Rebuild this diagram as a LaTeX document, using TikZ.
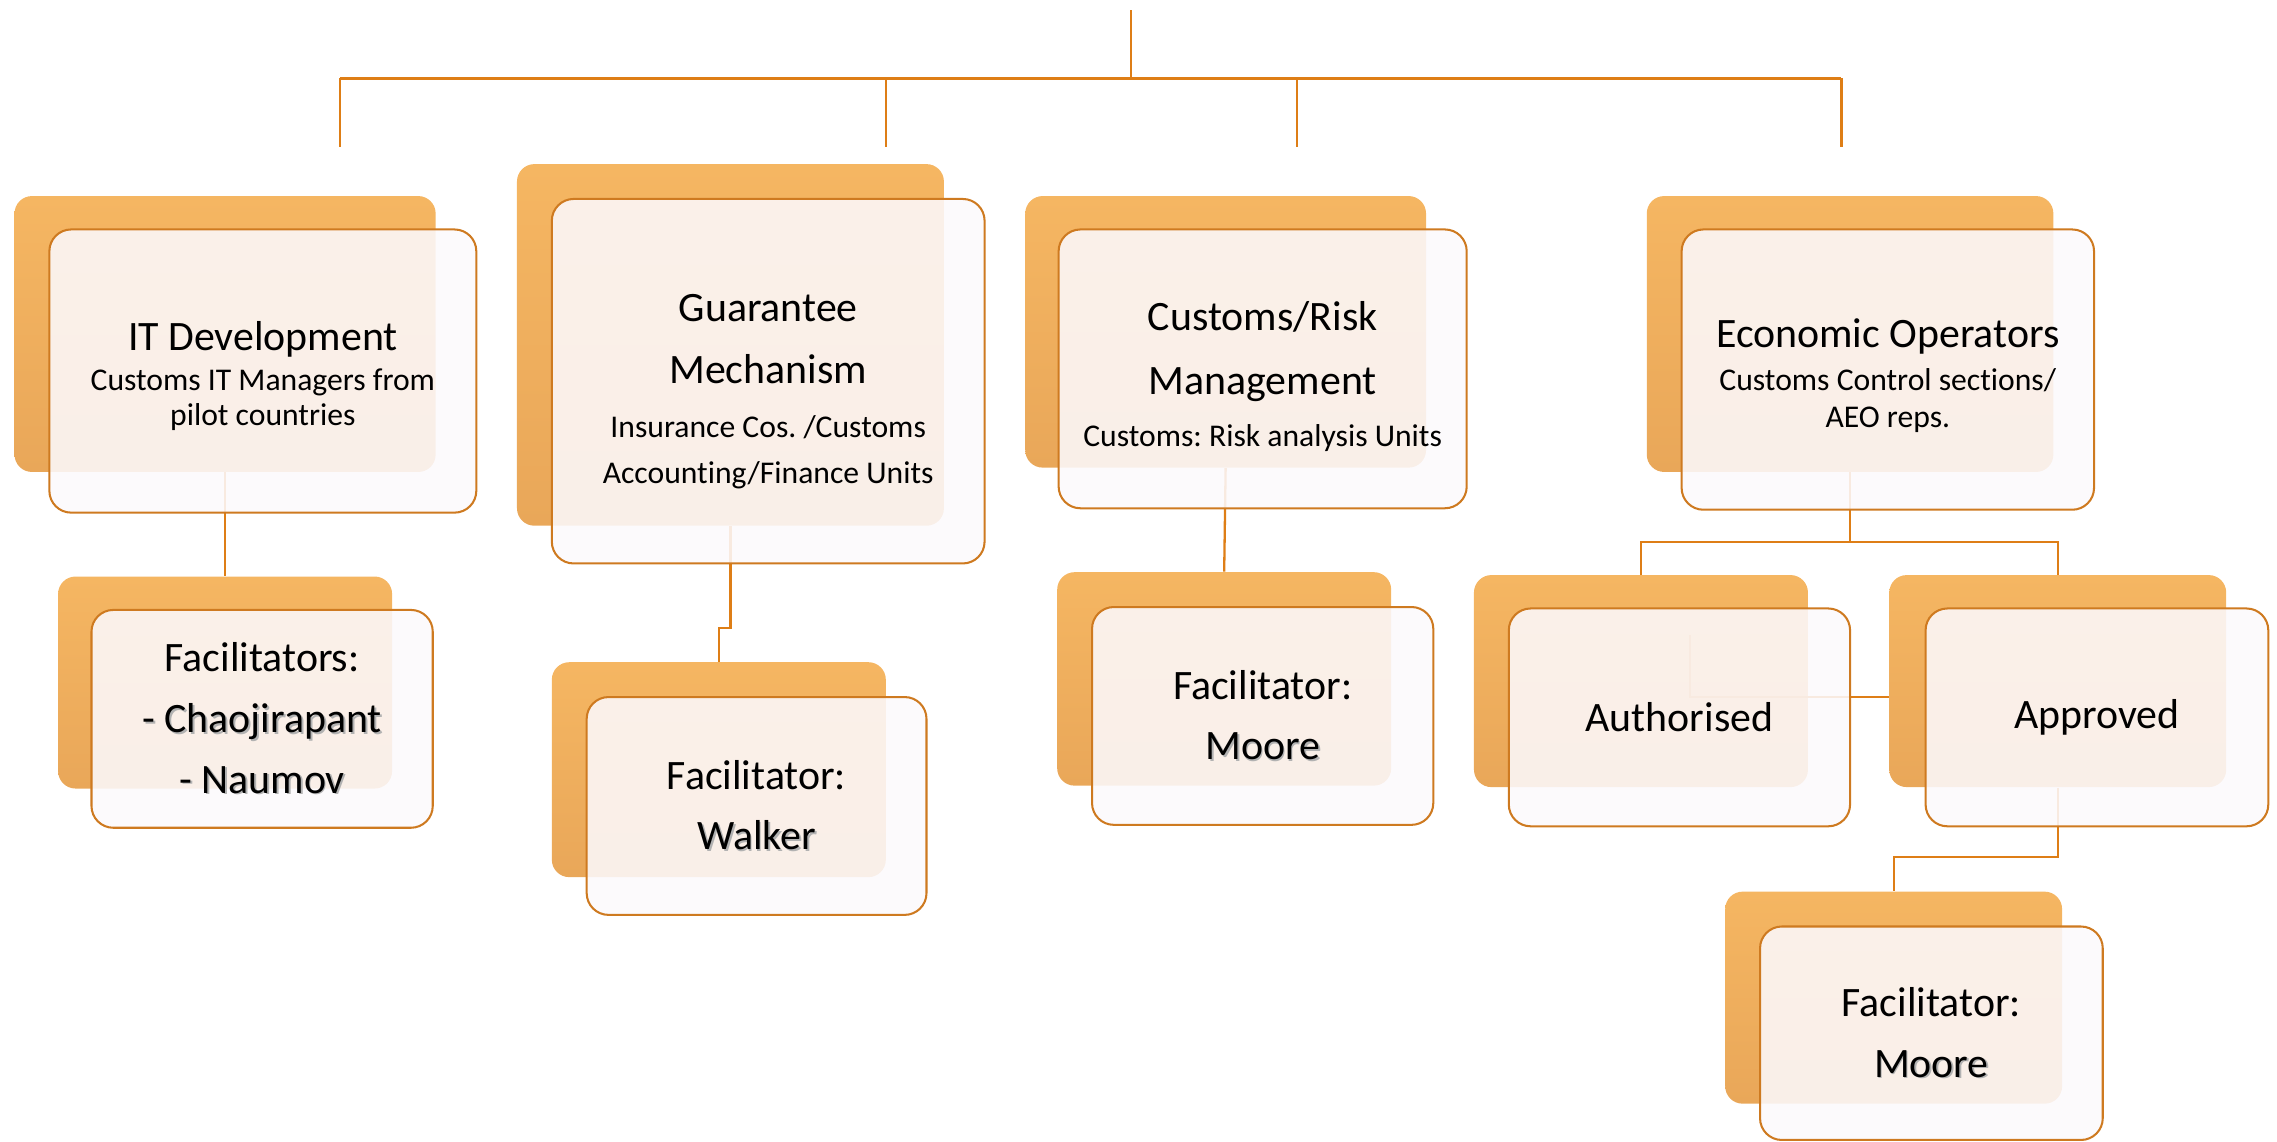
\documentclass[tikz,border=0pt]{standalone}
\usepackage{fontspec}
\setmainfont[Ligatures=NoCommon]{Carlito}
\usetikzlibrary{fit}
\definecolor{linkorange}{RGB}{222,126,22}
\definecolor{edgeorange}{RGB}{206,122,32}
\definecolor{backtop}{RGB}{245,182,98}
\definecolor{backbot}{RGB}{233,167,89}
\definecolor{frontfill}{RGB}{252,249,252}
\def\hd{\fontsize{16.4}{20}\selectfont}
\def\shname#1{\leavevmode\rlap{\kern0.7pt\raisebox{-0.7pt}{\color{black!30}#1}}#1}
\frenchspacing

\begin{document}
\begin{tikzpicture}[x=0.2mm, y=-0.2mm,
    backbox/.style={inner sep=0pt, rounded corners=2.4mm, top color=backtop, bottom color=backbot},
    frontbox/.style={inner sep=0pt, rounded corners=3mm, draw=edgeorange, line width=0.8pt,
        fill=frontfill, fill opacity=0.88},
    boxtext/.style={align=center, inner sep=0pt, font=\fontsize{16.4}{23.8}\selectfont},
    link/.style={draw=linkorange, line width=0.9pt}]
    \useasboundingbox (0,0) rectangle (1568,786.4);

    \coordinate (root) at (779,7);
    \coordinate (rootFork) at (779,54);
    \coordinate (itTap) at (234,101);
    \coordinate (gmTap) at (610,101);
    \coordinate (crTap) at (893,101);
    \coordinate (eoTap) at (1268,101);
    \draw[link] (root) -- (rootFork);
    \draw[link, line width=1.2pt] (itTap |- rootFork) -- (eoTap |- rootFork);
    \foreach \t in {itTap, gmTap, crTap, eoTap}
        \draw[link] (\t |- rootFork) -- (\t);

    \node[backbox, fit={(10,135) (300,325)}] (itBack) {};
    \node[backbox, fit={(356,113) (650,362)}] (gmBack) {};
    \node[backbox, fit={(706,135) (982,322)}] (crBack) {};
    \node[backbox, fit={(1134,135) (1414,325)}] (eoBack) {};
    \node[backbox, fit={(40,397) (270,543)}] (itFacBack) {};
    \node[backbox, fit={(380,456) (610,604)}] (gmFacBack) {};
    \node[backbox, fit={(728,394) (958,541)}] (crFacBack) {};
    \node[backbox, fit={(1015,396) (1245,542)}] (authBack) {};
    \node[backbox, fit={(1301,396) (1533,542)}] (apprBack) {};
    \node[backbox, fit={(1188,614) (1420,760)}] (eoFacBack) {};

    \draw[link] (itBack.south) -- (itFacBack.north);
    \draw[link] (gmBack.south) -- ++(0,70) -| (gmFacBack.north);
    \draw[link] (crBack.south) -- (crFacBack.north);
    \path (eoBack.south) ++(0,48) coordinate (eoFork);
    \draw[link] (eoBack.south) -- (eoFork) -| (authBack.north);
    \draw[link] (eoFork) -| (apprBack.north);
    \draw[link] (apprBack.south) -- ++(0,48) -| (eoFacBack.north);
    \coordinate (authTap) at (1164,437);
    \coordinate (apprTap) at (1301,480);
    \draw[link] (authTap) |- (apprTap);

    \node[frontbox, fit={(34,158) (328,353)}] (it) {};
    \node[frontbox, fit={(380,137) (678,388)}] (gm) {};
    \node[frontbox, fit={(729,158) (1010,350)}] (cr) {};
    \node[frontbox, fit={(1158,158) (1442,351)}] (eo) {};
    \node[frontbox, fit={(63,420) (298,570)}] (itFac) {};
    \node[frontbox, fit={(404,480) (638,630)}] (gmFac) {};
    \node[frontbox, fit={(752,418) (987,568)}] (crFac) {};
    \node[frontbox, fit={(1039,419) (1274,569)}] (auth) {};
    \node[frontbox, fit={(1326,419) (1562,569)}] (appr) {};
    \node[frontbox, fit={(1212,638) (1448,785)}] (eoFac) {};

    \node[boxtext, font=\fontsize{12.4}{13.7}\selectfont] (itText) at ([yshift=-2pt]it.center)
        {{\hd IT Development}\\[2.2pt] Customs IT Managers from\\ pilot countries};
    \node[boxtext, font=\fontsize{12.4}{18.2}\selectfont] (gmText) at ([yshift=-4pt]gm.center)
        {{\hd Guarantee}\\[6.3pt] {\hd Mechanism}\\[2.8pt] Insurance Cos. /Customs\\ Accounting/Finance Units};
    \node[boxtext, font=\fontsize{12.4}{20.5}\selectfont] (crText) at ([yshift=-3pt]cr.center)
        {{\hd Customs/Risk}\\[4.5pt] {\hd Management}\\ Customs: Risk analysis Units};
    \node[boxtext, font=\fontsize{12.4}{14.2}\selectfont] (eoText) at ([yshift=-2.3pt]eo.center)
        {{\hd Economic Operators}\\[2.8pt] Customs Control sections/\\ AEO reps.};
    \node[boxtext] (itFacText) at (itFac.center)
        {Facilitators:\\ \shname{- Chaojirapant}\\ \shname{- Naumov}};
    \node[boxtext] (gmFacText) at (gmFac.center) {Facilitator:\\ \shname{Walker}};
    \node[boxtext] (crFacText) at (crFac.center) {Facilitator:\\ \shname{Moore}};
    \node[boxtext] (authText) at (auth.center) {Authorised};
    \node[boxtext] (apprText) at (appr.center) {Approved};
    \node[boxtext] (eoFacText) at (eoFac.center) {Facilitator:\\ \shname{Moore}};
\end{tikzpicture}
\end{document}
